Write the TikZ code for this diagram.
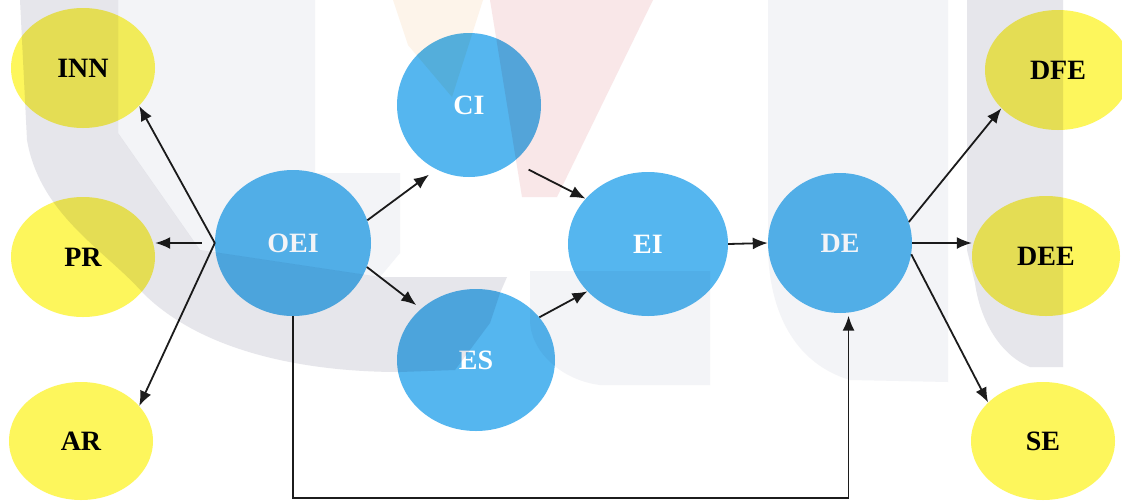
\documentclass[tikz,border=0pt]{standalone}
\usepackage{fontspec}
\setmainfont{Liberation Serif}
\usetikzlibrary{shapes.geometric,arrows.meta}
\definecolor{nodeblue}{HTML}{55B6EF}
\definecolor{nodeyellow}{HTML}{FDF65C}
\definecolor{wmdark}{HTML}{E6E6EB}
\definecolor{wmlight}{HTML}{F3F4F7}
\definecolor{wmpink}{HTML}{F9E7E8}
\definecolor{wmpeach}{HTML}{FDF4EA}
\definecolor{linecol}{HTML}{1C1C1C}

\begin{document}
\begin{tikzpicture}[x=1pt,y=-1pt,
  bubble/.style={ellipse, inner sep=0pt, font=\fontsize{28}{32}\selectfont\bfseries},
  outcome/.style={bubble, fill=nodeyellow, text=black},
  factor/.style={bubble, fill=nodeblue, text=white},
  link/.style={draw=linecol, line width=1.8pt, -{Latex[length=15pt,width=12pt]}}]
\useasboundingbox (0,0) rectangle (1122,501);
\fill[white] (0,0) rectangle (1122,501);

% outcome ellipses (left)
\node[outcome, minimum width=144pt, minimum height=120pt] (INN) at (83,68)  {INN};
\node[outcome, minimum width=144pt, minimum height=120pt] (PR)  at (83,257) {PR};
\node[outcome, minimum width=144pt, minimum height=118pt] (AR)  at (81,441) {AR};
% central factors
\node[factor, minimum width=156pt, minimum height=146pt] (OEI) at (293,243) {OEI};
\node[factor, minimum width=144pt, minimum height=144pt] (CI)  at (469,105) {CI};
\node[factor, minimum width=158pt, minimum height=142pt] (ES)  at (476,360) {ES};
\node[factor, minimum width=160pt, minimum height=144pt] (EI)  at (648,244) {EI};
\node[factor, minimum width=144pt, minimum height=140pt] (DE)  at (840,243) {DE};
% outcome ellipses (right)
\node[outcome, minimum width=146pt, minimum height=120pt] (DFE) at (1058,70)  {DFE};
\node[outcome, minimum width=148pt, minimum height=120pt] (DEE) at (1046,256) {DEE};
\node[outcome, minimum width=144pt, minimum height=118pt] (SE)  at (1043,441) {SE};

% connectors
\draw[link] (OEI.west) -- (INN.-34);
\draw[link, shorten <=13pt] (OEI.west) -- (OEI.west -| PR.east);
\draw[link] (OEI.west) -- (AR.31);
\draw[link, shorten >=9pt] (OEI.17) -- (CI.243);
\draw[link, shorten >=6pt] (OEI.-18) -- (ES.137);
\draw[link, shorten <=17pt] (CI.-52) -- (EI.144);
\draw[link] (ES.34) -- (EI.218);
\draw[link] (EI.east) -- (DE.west);
\draw[link] (DE.17) -- (DFE.214);
\draw[link] (DE.east) -- (DE.east -| DEE.west);
\draw[link] (DE.-9.5) -- (SE.145);
\draw[link, shorten >=3pt] (OEI.south) -- ++(0,182) -| (DE.-83);

% faint emblem behind the diagram
\begin{scope}[blend mode=multiply]
  \fill[wmdark] (20,0) -- (118,0) -- (118,133) -- (200,250) -- (300,265)
    -- (380,277) -- (507,277) -- (500,293) -- (490,323) -- (455,370) -- (400,372)
    .. controls (300,372) and (200,350) .. (143,293)
    .. controls (105,250) and (40,215) .. (27,140) -- cycle;
  \fill[wmlight] (118,0) -- (315,0) -- (315,173) -- (400,173) -- (400,253)
    -- (380,277) -- (300,265) -- (200,250) -- (118,133) -- cycle;
  \fill[wmlight] (530,271) -- (710,271) -- (710,385) -- (600,385)
    .. controls (560,380) and (530,350) .. (530,320) -- cycle;
  \fill[wmlight] (768,0) -- (948,0) -- (948,382) -- (850,380)
    .. controls (800,365) and (770,320) .. (768,250) -- cycle;
  \fill[wmdark] (967,0) -- (1063,0) -- (1063,367) -- (1030,367)
    .. controls (1000,355) and (980,320) .. (975,283) -- (967,250) -- cycle;
  \fill[wmpeach] (393,0) -- (483,0) -- (452,97) -- (408,45) -- cycle;
  \fill[wmpink] (490,0) -- (653,0) -- (557,197) -- (522,197) -- cycle;
\end{scope}
\end{tikzpicture}
\end{document}
